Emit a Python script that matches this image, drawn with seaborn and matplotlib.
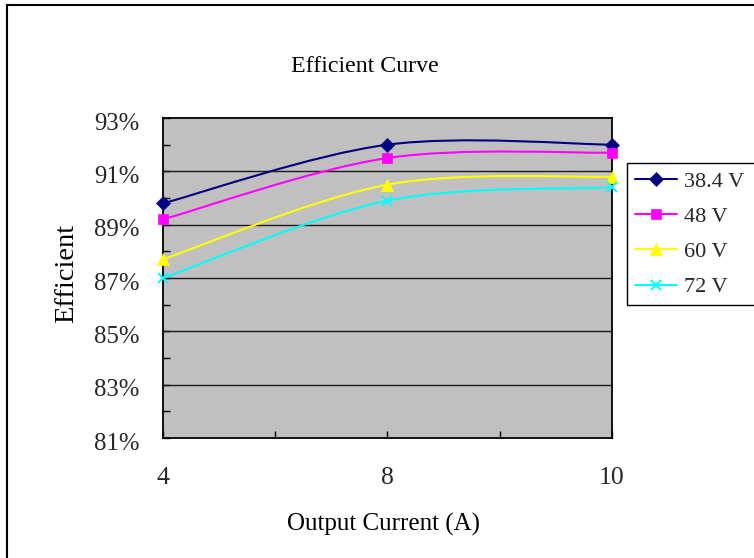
import numpy as np
import pandas as pd
import matplotlib
matplotlib.use("Agg")
import matplotlib.pyplot as plt
import seaborn as sns
from matplotlib.path import Path
from matplotlib.patches import PathPatch, Rectangle
from matplotlib.lines import Line2D
from matplotlib.transforms import ScaledTranslation

# ---- data ----
currents = ["4", "8", "10"]
series_names = ["38.4 V", "48 V", "60 V", "72 V"]
eff_384 = [89.8, 92.0, 92.0]
eff_48 = [89.2, 91.5, 91.7]
eff_60 = [87.7, 90.5, 90.8]
eff_72 = [87.0, 89.9, 90.4]
y_ticks = [81, 83, 85, 87, 89, 91, 93]

colors = ["#000080", "#FF00FF", "#FFFF00", "#00FFFF"]
markers = ["D", "s", "^", "x"]
msizes = [7, 7, 8, 7]

values = [eff_384, eff_48, eff_60, eff_72]
rows = []
for name, vals in zip(series_names, values):
    for i, (c, v) in enumerate(zip(currents, vals)):
        rows.append({"Series": name, "Current": c, "pos": i, "Efficient": v})
df = pd.DataFrame(rows)

sns.set_theme(style="white")
plt.rcParams["font.family"] = ["Liberation Serif", "DejaVu Serif"]

fig = plt.figure(figsize=(7.54, 5.58), dpi=100)
ax = fig.add_axes([163 / 754, 1 - 438 / 558, 449 / 754, 320 / 558])
ax.set_facecolor("#C0C0C0")

ax.set_xlim(0, len(currents) - 1)
ax.set_ylim(y_ticks[0], y_ticks[-1])

for yv in y_ticks[1:-1]:
    ax.axhline(yv, color="#1a1a1a", lw=1.0, zorder=1)


def smooth_path(xs, ys):
    # Excel-like Bezier smoothing through the data points
    pts = np.column_stack([xs, ys]).astype(float)
    n = len(pts)
    verts = [pts[0]]
    codes = [Path.MOVETO]
    for i in range(n - 1):
        p0 = pts[max(i - 1, 0)]
        p1 = pts[i]
        p2 = pts[i + 1]
        p3 = pts[min(i + 2, n - 1)]
        c1 = p1 + (p2 - p0) / 6.0
        c2 = p2 - (p3 - p1) / 6.0
        verts += [c1, c2, p2]
        codes += [Path.CURVE4] * 3
    return Path(verts, codes)


for name, col in zip(series_names, colors):
    sub = df[df["Series"] == name]
    patch = PathPatch(smooth_path(sub["pos"].values, sub["Efficient"].values),
                      facecolor="none", edgecolor=col, lw=1.5, zorder=3,
                      clip_on=False)
    ax.add_patch(patch)

for name, col, mk, ms in zip(series_names, colors, markers, msizes):
    sub = df[df["Series"] == name]
    sns.lineplot(data=sub, x="pos", y="Efficient", ax=ax, color=col,
                 linestyle="none", marker=mk, markersize=ms,
                 markeredgecolor=col, markeredgewidth=1.4 if mk == "x" else 0.5,
                 legend=False, zorder=4, clip_on=False)

ax.set_xticks(range(len(currents)))
ax.set_xticklabels(currents)
ax.set_xticks([0.5, 1.5], minor=True)
ax.set_yticks(y_ticks)
ax.set_yticklabels([f"{v}%" for v in y_ticks])
ax.set_yticks([v + 1 for v in y_ticks[:-1]], minor=True)
ax.tick_params(axis="both", which="both", direction="in", length=5,
               width=1, color="black", left=True, bottom=True)
ax.tick_params(axis="y", which="major", labelsize=17.8, pad=17)
ax.tick_params(axis="x", which="major", labelsize=18.5, pad=21)

shift = ScaledTranslation(0, -3 / 100, fig.dpi_scale_trans)
for lbl in ax.get_yticklabels():
    lbl.set_transform(lbl.get_transform() + shift)

for sp in ax.spines.values():
    sp.set_color("black")
    sp.set_linewidth(1.3)

ax.set_xlabel("Output Current (A)", fontsize=18, color="black")
ax.set_ylabel("Efficient", fontsize=20.5, color="black")
ax.xaxis.set_label_coords((384 - 163) / 449, (438 - 524) / 320)
ax.xaxis.label.set_va("center")
ax.yaxis.set_label_coords((67 - 163) / 449, (438 - 273) / 320)
ax.yaxis.label.set_va("center")

fig.text(365 / 754, 1 - 66 / 558, "Efficient Curve", fontsize=17.2,
         ha="center", va="center", color="black")

handles = [Line2D([0], [0], color=c, marker=m, markersize=s, lw=1.5,
                  markeredgecolor=c, markeredgewidth=1.4 if m == "x" else 0.5)
           for c, m, s in zip(colors, markers, msizes)]
leg = ax.legend(handles, series_names, loc="upper left",
                bbox_to_anchor=(627 / 754, 1 - 164 / 558, 200 / 754, 0.001),
                bbox_transform=fig.transFigure, mode="expand",
                fontsize=16, frameon=True, fancybox=False, framealpha=1,
                edgecolor="black", borderpad=0.35, handlelength=1.9,
                handletextpad=0.3, labelspacing=0.66, borderaxespad=0)
leg.get_frame().set_linewidth(1.0)

fig.add_artist(Rectangle((7 / 754, -0.1), 1.2, 1.1 - 5 / 558,
                         transform=fig.transFigure, fill=False,
                         edgecolor="black", lw=1.5, clip_on=False))

fig.savefig("out.png", dpi=100, facecolor="white")
